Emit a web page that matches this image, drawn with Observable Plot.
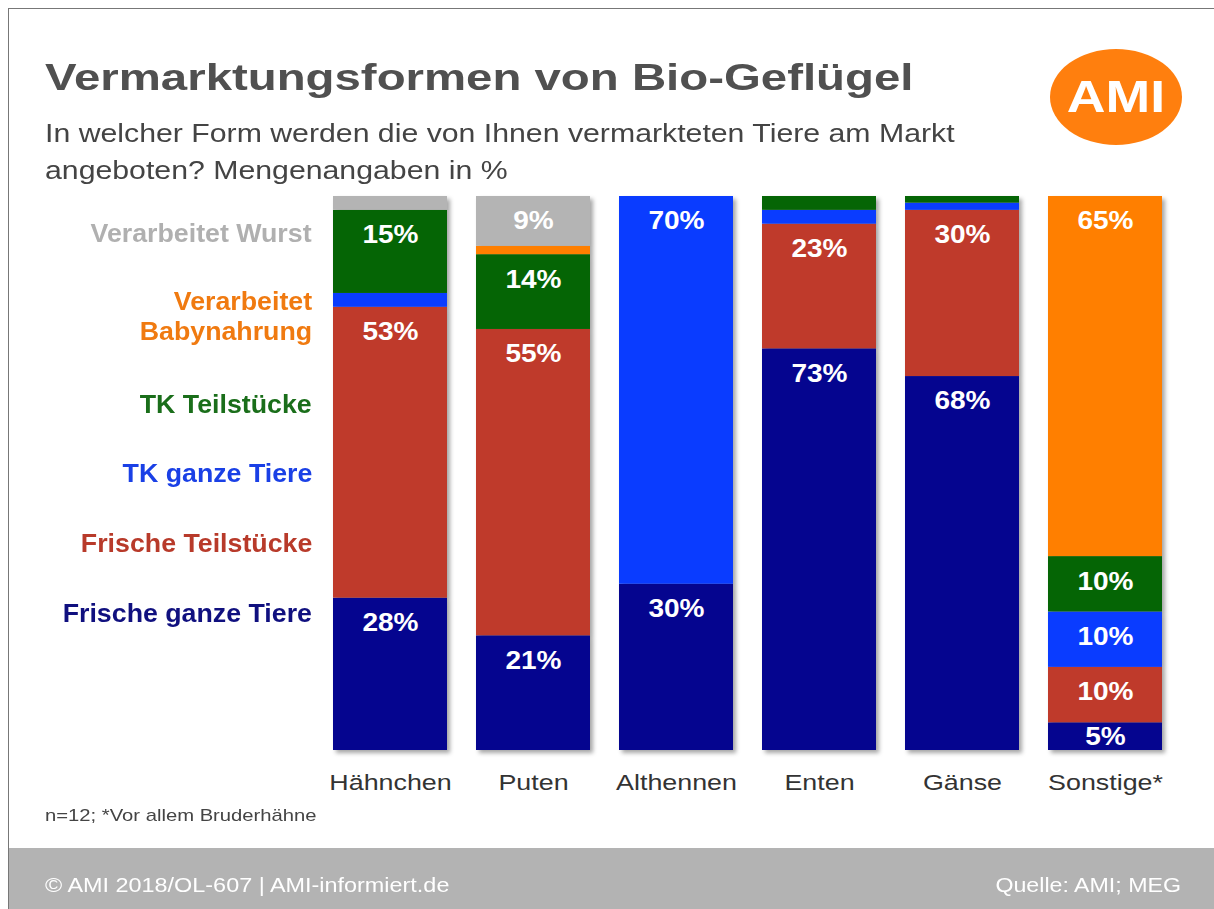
<!DOCTYPE html>
<html>
<head>
<meta charset="utf-8">
<script src="https://cdn.jsdelivr.net/npm/d3@7"></script>
<script src="https://cdn.jsdelivr.net/npm/@observablehq/plot@0.6"></script>
<style>
  html, body { margin: 0; padding: 0; background: #fff; }
  body { font-family: "Liberation Sans", Arial, sans-serif; }
  #page { position: relative; width: 1214px; height: 909px; overflow: hidden; background: #fff; }
  #frameTop { position: absolute; left: 8px; top: 8px; right: 0; height: 1px; background: #777; }
  #frameLeft { position: absolute; left: 8px; top: 8px; width: 1px; bottom: 0; background: #777; }
  #title { position: absolute; left: 45px; top: 57px; font-size: 37px; font-weight: bold; color: #505050; white-space: nowrap; transform: scaleX(1.28); transform-origin: left center; }
  #subtitle { position: absolute; left: 45px; top: 115px; font-size: 25px; line-height: 37px; color: #444; white-space: nowrap; transform: scaleX(1.21); transform-origin: left center; }
  #logo { position: absolute; left: 1050px; top: 49px; width: 132px; height: 96px; border-radius: 50%; background: #ff7f0e; }
  #logo span { position: absolute; left: 0; right: 0; top: 0; color: #fff; font-weight: bold; font-size: 44px; text-align: center; line-height: 96px; transform: scaleX(1.22); }
  .leg { position: absolute; right: 902px; font-size: 25px; font-weight: bold; text-align: right; white-space: nowrap; line-height: 30px; transform: scaleX(1.07); transform-origin: right center; }
  #note { position: absolute; left: 45px; top: 806px; font-size: 17px; color: #444; white-space: nowrap; transform: scaleX(1.19); transform-origin: left center; }
  #footer { position: absolute; left: 9px; right: 0; top: 848px; height: 61px; background: #b3b3b3; color: #fff; font-size: 20px; }
  #footer .l { position: absolute; left: 36px; top: 26px; white-space: nowrap; transform: scaleX(1.17); transform-origin: left center; }
  #footer .r { position: absolute; right: 33px; top: 26px; white-space: nowrap; transform: scaleX(1.16); transform-origin: right center; }
  #chart { position: absolute; left: 0; top: 186px; }
  #chart svg { background: none !important; }
</style>
</head>
<body>
<div id="page">
  <div id="chart"></div>
  <div id="frameTop"></div>
  <div id="frameLeft"></div>
  <div id="title">Vermarktungsformen von Bio-Geflügel</div>
  <div id="subtitle">In welcher Form werden die von Ihnen vermarkteten Tiere am Markt<br>angeboten? Mengenangaben in %</div>
  <div id="logo"><span>AMI</span></div>
  <div id="legend"></div>
  <div id="note">n=12; *Vor allem Bruderhähne</div>
  <div id="footer"><span class="l">© AMI 2018/OL-607 | AMI-informiert.de</span><span class="r">Quelle: AMI; MEG</span></div>
</div>
<script>
// ---- Data ----
const animals = ["Hähnchen", "Puten", "Althennen", "Enten", "Gänse", "Sonstige*"];
const seriesNames = ["Frische ganze Tiere", "Frische Teilstücke", "TK ganze Tiere", "TK Teilstücke", "Verarbeitet Babynahrung", "Verarbeitet Wurst"];
const frischeGanze = [27.5, 20.7, 30, 72.5, 67.5, 5];
const frischeTeil  = [52.5, 55.3, 0, 22.5, 30, 10];
const tkGanze      = [2.5, 0, 70, 2.5, 1.3, 10];
const tkTeil       = [15, 13.5, 0, 2.5, 1.2, 10];
const babynahrung  = [0, 1.5, 0, 0, 0, 65];
const wurst        = [2.5, 9, 0, 0, 0, 0];
const seriesColors = ["#05058f", "#bf3a2b", "#0a3cff", "#056505", "#ff7f00", "#b4b4b4"];
const legendColors = ["#10107f", "#b83a2a", "#1a40e6", "#1a6e1a", "#f07a10", "#b0b0b0"];

const seriesValues = [frischeGanze, frischeTeil, tkGanze, tkTeil, babynahrung, wurst];

// Build table
const rows = [];
animals.forEach((a, i) => {
  let cum = 0;
  seriesNames.forEach((s, j) => {
    const v = seriesValues[j][i];
    const top = cum + v;
    rows.push({animal: a, series: s, value: v, top,
               labelY: top - Math.min(4.5, v / 2)});
    cum = top;
  });
});

// Legend (HTML, to the left of the bars)
const legendTops = [598, 528, 458, 389, 286, 218];
const legendEl = document.getElementById("legend");
seriesNames.forEach((s, j) => {
  const d = document.createElement("div");
  d.className = "leg";
  d.style.top = legendTops[j] + "px";
  d.style.color = legendColors[j];
  d.innerHTML = s === "Verarbeitet Babynahrung" ? "Verarbeitet<br>Babynahrung" : s;
  legendEl.appendChild(d);
});

const chart = Plot.plot({
  width: 1214,
  height: 614,
  marginTop: 10,
  marginBottom: 50,
  marginLeft: 316,
  marginRight: 35,
  style: {fontFamily: "Liberation Sans, Arial, sans-serif", background: "none", overflow: "visible"},
  x: {domain: animals, paddingInner: 0.2, paddingOuter: 0.1, label: null},
  y: {domain: [0, 100], axis: null},
  color: {domain: seriesNames, range: seriesColors},
  marks: [
    Plot.barY(rows, Plot.stackY({x: "animal", y: "value", fill: "series", order: null, inset: 0})),
    Plot.text(rows.filter(d => d.value >= 5), {
      x: "animal", y: "labelY", text: d => Math.round(d.value) + "%",
      fill: "white", fontSize: 25, fontWeight: "bold"
    }),
    Plot.axisX({tickSize: 0, tickPadding: 24, fontSize: 22, color: "#333", label: null})
  ]
});
document.getElementById("chart").appendChild(chart);
const barG = chart.querySelector('g[aria-label="bar"]');
if (barG) barG.style.filter = "drop-shadow(3px 3px 2px rgba(0,0,0,0.35))";
// widen glyphs horizontally (reference is horizontally stretched)
function widen(sel, k) {
  chart.querySelectorAll(sel).forEach(t => {
    const w = t.getComputedTextLength();
    if (w > 0) {
      t.setAttribute("textLength", (w * k).toFixed(1));
      t.setAttribute("lengthAdjust", "spacingAndGlyphs");
    }
  });
}
widen('g[aria-label="text"] text', 1.12);
widen('g[aria-label="x-axis tick label"] text', 1.22);
</script>
</body>
</html>
